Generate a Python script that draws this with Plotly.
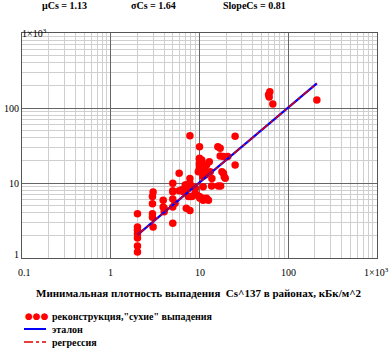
import math
import plotly.graph_objects as go

# ---- data ----
x_pts = [2, 2, 2, 2, 2, 2, 2,
         3.0, 2.95, 2.95, 2.95, 2.95, 3.0,
         3.9, 3.9, 4.0, 4.0,
         5.0, 5.0, 5.0, 5.0, 5.3, 5.0, 5.0,
         5.9, 5.9, 6.3,
         6.6, 6.9, 7.1, 7.3, 7.1, 7.8,
         7.8, 7.8, 7.8, 7.5, 7.2, 6.9, 8.5, 8.9, 8.2,
         9.3, 9.0, 10, 10, 10, 10.6, 10, 10.6, 11, 10, 10, 11, 10, 9.7, 12.9, 12, 11.5,
         10, 10.1, 11, 11, 12.6, 11, 13.7, 10.9, 13.8, 11.6, 13.2, 12,
         16.3, 17.3,
         16.1, 17.1, 17.1, 18.6, 20.8,
         17.9, 18.6, 19, 19.5,
         25.2, 25.2,
         60, 62, 61, 67, 210]
y_pts = [3.9, 2.6, 2.35, 2.1, 1.85, 1.45, 1.2,
         7.6, 6.6, 5.3, 3.9, 3.5, 2.6,
         5.9, 4.8, 4.6, 4.15,
         9.9, 7.9, 7.65, 6.1, 5.35, 4.8, 2.9,
         13.5, 7.9, 8.1,
         7.65, 9.4, 9.4, 8.5, 4.6, 4.3,
         42.7, 11.5, 9.9, 6.6, 9.4, 8.5, 8.9, 7.3, 6.6,
         6.9, 8.5, 30.5, 21.4, 20.7, 20.3, 18.3, 19.2, 16.5, 17.4, 15.7, 15.7, 14.9, 14.1, 19.2, 17.4, 14.9,
         6.6, 6.25, 6.25, 5.9, 5.9, 8.9, 9.1, 12.2, 11.5, 12.8, 14.1, 6.25,
         9.1, 9.1,
         30.5, 29, 22.9, 22.5, 22.5,
         14.1, 13.5, 12.1, 11.6,
         42, 17.4,
         150, 165, 140, 113, 128]

ref_x = [2, 210]
ref_y = [2.03, 213]
reg_x = [2, 210]
reg_y = [2.03, 213]

x_tickvals = [0.1, 1, 10, 100, 1000]
x_ticktext = ["0.1", "1", "10", "100", "1×10<sup>3</sup>"]
y_tickvals = [1, 10, 100, 1000]
y_ticktext = ["1", "10", "100", "1×10<sup>3</sup>"]

header = ["μCs = 1.13", "σCs = 1.64", "SlopeCs = 0.81"]
x_title = "Минимальная плотность выпадения  Cs^137 в районах, кБк/м^2"
legend_names = ["реконструкция,\"сухие\" выпадения", "эталон", "регрессия"]

# ---- layout geometry ----
W, H = 389, 349
L, R, T, B = 22, 377, 33, 258
def px(x):
    return (x - L) / (R - L)
def py(y):
    return (B - y) / (B - T)

FONT = "Liberation Serif, DejaVu Serif, serif"

fig = go.Figure()
fig.add_trace(go.Scatter(x=x_pts, y=y_pts, mode="markers",
                         marker=dict(color="#ff0000", size=7.5, line=dict(width=0)),
                         name=legend_names[0]))
fig.add_trace(go.Scatter(x=ref_x, y=ref_y, mode="lines",
                         line=dict(color="#0000ff", width=2.2), name=legend_names[1]))
fig.add_trace(go.Scatter(x=reg_x, y=reg_y, mode="lines",
                         line=dict(color="#dd0000", width=1.4, dash="dashdot"), name=legend_names[2]))

axis_common = dict(type="log", showline=True, linecolor="#555", linewidth=1, mirror=True,
                   showgrid=True, gridcolor="#666", gridwidth=1, zeroline=False, automargin=False,
                   ticks="", showticklabels=False,
                   minor=dict(showgrid=True, gridcolor="#cfcfcf", gridwidth=1, dtick="D1", ticks=""))

fig.update_xaxes(range=[-1, 3], tickvals=x_tickvals, **axis_common)
fig.update_yaxes(range=[0, 3], tickvals=y_tickvals, **axis_common)

annotations = []
# y tick labels, placed at the y axis values
for v, t in zip(y_tickvals, y_ticktext):
    top = (v == y_tickvals[-1])
    annotations.append(dict(text=t, x=0 if top else px(20.5), xref="paper",
                            y=math.log10(v), yref="y",
                            xanchor="left" if top else "right",
                            yanchor="bottom" if v == 1 else "middle",
                            yshift=-4 if v == 1 else 0,
                            showarrow=False, xshift=-2 if top else 0,
                            font=dict(family=FONT, size=10, color="#000")))
# x tick labels, placed at the x axis values
for v, t in zip(x_tickvals, x_ticktext):
    last = (v == x_tickvals[-1])
    annotations.append(dict(text=t, x=math.log10(v), xref="x", y=py(272), yref="paper",
                            xanchor="center", yanchor="middle", showarrow=False,
                            xshift=-1 if last else (2 if v == 0.1 else 0),
                            font=dict(family=FONT, size=10, color="#000")))
hx = [40, 129, 221]
for t, x0 in zip(header, hx):
    annotations.append(dict(text="<b>" + t + "</b>", x=px(x0), y=py(6), xref="paper", yref="paper",
                            xanchor="left", yanchor="middle", showarrow=False,
                            font=dict(family=FONT, size=10, color="#000")))
annotations.append(dict(text="<b>" + x_title + "</b>", x=px(199), y=py(293), xref="paper", yref="paper",
                        xanchor="center", yanchor="middle", showarrow=False,
                        font=dict(family=FONT, size=11, color="#000")))
leg_y = [316, 329, 342]
annotations.append(dict(text="●●●", x=px(23), y=py(leg_y[0]), xref="paper", yref="paper",
                        xanchor="left", yanchor="middle", showarrow=False,
                        font=dict(family="DejaVu Sans", size=9, color="#ff0000")))
for name, yy in zip(legend_names, leg_y):
    annotations.append(dict(text="<b>" + name + "</b>", x=px(50), y=py(yy), xref="paper", yref="paper",
                            xanchor="left", yanchor="middle", showarrow=False,
                            font=dict(family=FONT, size=10, color="#000")))

shapes = [
    dict(type="line", xref="paper", yref="paper", x0=px(24), x1=px(46), y0=py(leg_y[1]), y1=py(leg_y[1]),
         line=dict(color="#0000ff", width=2)),
    dict(type="line", xref="paper", yref="paper", x0=px(24), x1=px(46), y0=py(leg_y[2]), y1=py(leg_y[2]),
         line=dict(color="#dd0000", width=1.5, dash="dashdot")),
]

fig.update_layout(width=W, height=H, margin=dict(l=L, r=W - R, t=T, b=H - B),
                  paper_bgcolor="white", plot_bgcolor="white", showlegend=False,
                  annotations=annotations, shapes=shapes)

fig.write_html("out.html", config={"displayModeBar": False},
               post_script="document.body.style.margin='0';document.body.style.overflow='hidden';")
